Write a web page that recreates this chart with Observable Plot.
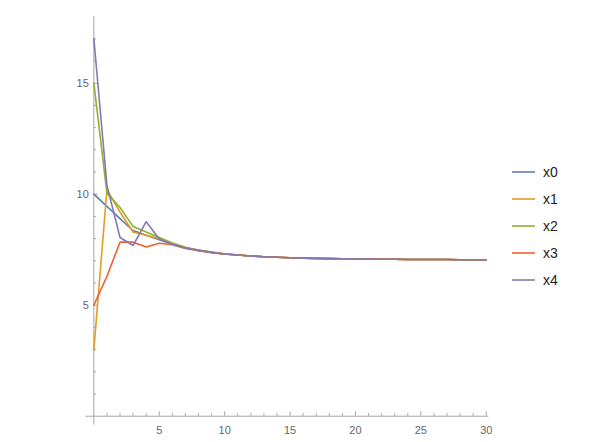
<!DOCTYPE html>
<html>
<head>
<meta charset="utf-8">
<script src="https://cdn.jsdelivr.net/npm/d3@7"></script>
<script src="https://cdn.jsdelivr.net/npm/@observablehq/plot@0.6"></script>
<style>
  html, body { margin: 0; padding: 0; background: #fff; }
  #wrap { position: relative; width: 599px; height: 442px; font-family: "Liberation Sans", Arial, sans-serif; }
  #legend { position: absolute; left: 512px; top: 158px; }
  .item { height: 27px; display: flex; align-items: center; font-size: 14px; color: #222; }
  .item svg { margin-right: 8px; }
</style>
</head>
<body>
<div id="wrap"><div id="legend"></div></div>
<script>
const steps = d3.range(0, 31);
const seriesNames = ["x0", "x1", "x2", "x3", "x4"];
const colors = ["#5E81B5", "#E19C24", "#8FB032", "#EB6235", "#8778B3"];

const x0 = [10, 9.45, 8.9, 8.36, 8.15, 7.95, 7.75, 7.58, 7.47, 7.38, 7.31, 7.26, 7.22, 7.18, 7.16, 7.14, 7.12, 7.11, 7.10, 7.09, 7.08, 7.08, 7.07, 7.07, 7.06, 7.06, 7.06, 7.06, 7.05, 7.05, 7.05];
const x1 = [3, 10.2, 9.2, 8.3, 8.15, 8.0, 7.78, 7.59, 7.47, 7.38, 7.31, 7.26, 7.22, 7.18, 7.16, 7.14, 7.12, 7.11, 7.10, 7.09, 7.08, 7.08, 7.07, 7.07, 7.06, 7.06, 7.06, 7.06, 7.05, 7.05, 7.05];
const x2 = [15, 10.05, 9.4, 8.55, 8.3, 8.05, 7.8, 7.61, 7.48, 7.39, 7.31, 7.26, 7.22, 7.18, 7.16, 7.14, 7.12, 7.11, 7.10, 7.09, 7.08, 7.08, 7.07, 7.07, 7.06, 7.06, 7.06, 7.06, 7.05, 7.05, 7.05];
const x3 = [5, 6.3, 7.84, 7.84, 7.62, 7.79, 7.72, 7.56, 7.46, 7.37, 7.31, 7.26, 7.22, 7.18, 7.16, 7.14, 7.12, 7.11, 7.10, 7.09, 7.08, 7.08, 7.07, 7.07, 7.06, 7.06, 7.06, 7.06, 7.05, 7.05, 7.05];
const x4 = [17, 10.4, 8.05, 7.69, 8.76, 7.98, 7.74, 7.58, 7.47, 7.38, 7.31, 7.26, 7.22, 7.18, 7.16, 7.14, 7.12, 7.11, 7.10, 7.09, 7.08, 7.08, 7.07, 7.07, 7.06, 7.06, 7.06, 7.06, 7.05, 7.05, 7.05];

const xMajorTicks = [5, 10, 15, 20, 25, 30];
const xMinorTicks = d3.range(1, 31).filter(d => d % 5 !== 0);
const yMajorTicks = [5, 10, 15];
const yMinorTicks = d3.range(1, 18).filter(d => d % 5 !== 0);

const allSeries = [x0, x1, x2, x3, x4];
const data = [];
allSeries.forEach((vals, i) => {
  vals.forEach((v, j) => data.push({step: steps[j], value: v, series: seriesNames[i]}));
});

const xDomain = [-0.6, 30.2];
const yDomain = [-0.4, 18];
const axisColor = "#a6a6a6";
const labelColor = "#666";

const chart = Plot.plot({
  width: 599,
  height: 442,
  x: {domain: xDomain, range: [85.5, 488.4], axis: null},
  y: {domain: yDomain, range: [424.6, 16.1], axis: null},
  color: {domain: seriesNames, range: colors},
  style: {fontFamily: "'Liberation Sans', Arial, sans-serif", background: "transparent"},
  marks: [
    Plot.ruleY([0], {x1: xDomain[0], x2: xDomain[1], stroke: axisColor, strokeWidth: 1}),
    Plot.ruleX([0], {y1: yDomain[0], y2: yDomain[1], stroke: axisColor, strokeWidth: 1}),
    Plot.ruleX(xMajorTicks, {x: d => d, y1: 0, y2: 0.2, stroke: axisColor}),
    Plot.ruleX(xMinorTicks, {x: d => d, y1: 0, y2: 0.12, stroke: axisColor}),
    Plot.ruleY(yMajorTicks, {y: d => d, x1: 0, x2: 0.33, stroke: axisColor}),
    Plot.ruleY(yMinorTicks, {y: d => d, x1: 0, x2: 0.2, stroke: axisColor}),
    Plot.text(xMajorTicks, {x: d => d, y: 0, dy: 14, text: d => String(d), fill: labelColor, fontSize: 11}),
    Plot.text(yMajorTicks, {x: 0, y: d => d, dx: -5, textAnchor: "end", text: d => String(d), fill: labelColor, fontSize: 11}),
    Plot.line(data, {x: "step", y: "value", z: "series", stroke: "series", strokeWidth: 1.6, strokeLinejoin: "round"})
  ]
});
const wrap = document.getElementById("wrap");
wrap.insertBefore(chart, wrap.firstChild);

const legend = document.getElementById("legend");
seriesNames.forEach((name, i) => {
  const item = document.createElement("div");
  item.className = "item";
  item.innerHTML = `<svg width="23" height="4"><line x1="0" x2="23" y1="2" y2="2" stroke="${colors[i]}" stroke-width="1.6"/></svg><span>${name}</span>`;
  legend.appendChild(item);
});
</script>
</body>
</html>
